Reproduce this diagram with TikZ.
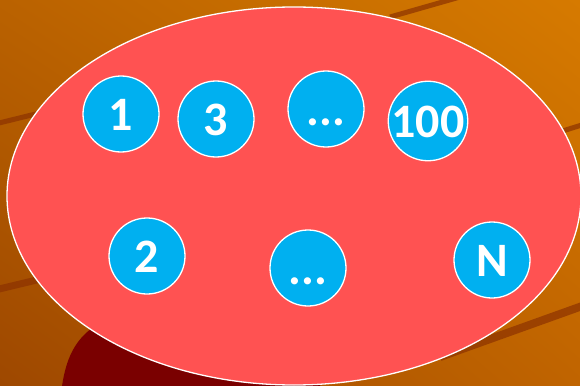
\documentclass[tikz,border=0pt]{standalone}
\usepackage{fontspec}
\setmainfont{Carlito}
\usetikzlibrary{shadings,shapes.geometric}
\definecolor{bgTL}{RGB}{186,98,0}
\definecolor{bgTR}{RGB}{214,122,0}
\definecolor{bgBL}{RGB}{158,72,0}
\definecolor{bgBR}{RGB}{192,100,0}
\definecolor{streak}{RGB}{140,50,0}
\definecolor{darkred}{RGB}{122,0,0}
\definecolor{setred}{RGB}{255,82,82}
\definecolor{ballblue}{RGB}{0,176,240}
\tikzset{
  ball/.style={circle, draw=white, line width=1.3pt, fill=ballblue, minimum size=76pt,
    inner sep=0pt, text=white, font=\fontsize{48}{52}\selectfont\bfseries,
    text height=32pt, text depth=0pt},
  streakline/.style={draw=streak, opacity=0.7}
}
\begin{document}
\begin{tikzpicture}[x=1pt,y=-1pt]
\useasboundingbox (0,0) rectangle (580,385);
% background
\shade[upper left=bgTL, upper right=bgTR, lower left=bgBL, lower right=bgBR] (0,0) rectangle (580,385);
% streaks
\draw[streakline, line width=5pt] (-5,124) -- (60,108);
\draw[streakline, line width=7pt] (-5,290) -- (70,272);
\draw[streakline, line width=8pt] (440,357) -- (585,305);
\draw[streakline, line width=5pt] (390,17) -- (460,-3);
\draw[streakline, line width=5pt] (540,138) -- (585,124);
% dark red shape
\fill[darkred] (62,386) .. controls (66,360) and (74,340) .. (95,326) -- (320,330) -- (320,386) -- cycle;
% big set
\node (set) [ellipse, draw=white, line width=1.3pt, fill=setred, minimum width=574pt, minimum height=378pt, inner sep=0pt] at (294,196) {};
% elements
\node[ball] (b1) at (121,114) {1};
\node[ball] (b3) at (216,119) {3};
\node[ball] (bd1) at (326,109) {...};
\node[ball] (b100) at (428,121) {100};
\node[ball] (b2) at (147,256) {2};
\node[ball] (bd2) at (308,268) {...};
\node[ball] (bN) at (492,260) {N};
\end{tikzpicture}
\end{document}
